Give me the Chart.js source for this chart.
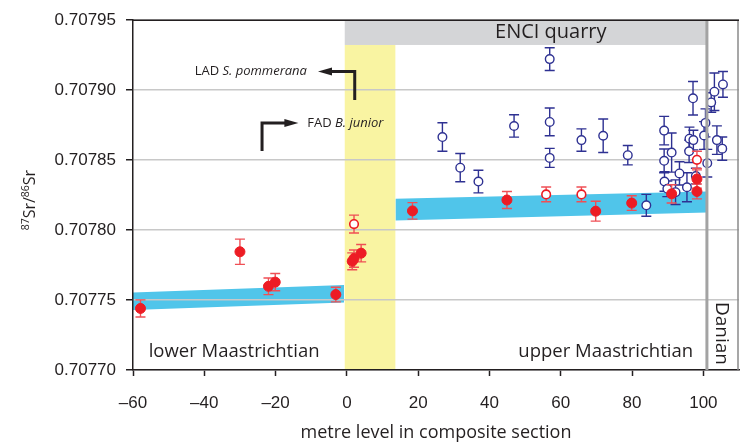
<!DOCTYPE html>
<html>
<head>
<meta charset="utf-8">
<script src="https://cdn.jsdelivr.net/npm/chart.js@4.4.1/dist/chart.umd.min.js"></script>
<style>
    html, body { margin: 0; padding: 0; background: #fff; }
</style>
</head>
<body>
<canvas id="myChart" width="745" height="448"></canvas>
<script>
// axis ticks
const xTicks = [-60, -40, -20, 0, 20, 40, 60, 80, 100];
const yTicks = [0.70770, 0.70775, 0.70780, 0.70785, 0.70790, 0.70795];

// open blue circles
const blueX = [26.8, 31.8, 36.9, 46.9, 56.9, 56.9, 56.9, 65.8, 71.9, 78.8, 84.0,
    89.0, 89.0, 89.1, 89.9, 91.1, 92.2, 93.3, 95.4, 96.0, 96.1, 97.1, 97.2, 97.9,
    100.2, 100.6, 101.1, 102.2, 103.1, 103.8, 105.5, 105.3];
const blueY = [0.7078665, 0.7078446, 0.7078347, 0.7078744, 0.7079222, 0.7078773, 0.7078516, 0.7078643, 0.7078674, 0.7078535, 0.7078177,
    0.7078711, 0.7078495, 0.7078347, 0.7078295, 0.7078554, 0.7078271, 0.7078405, 0.7078306, 0.7078563, 0.7078653, 0.7078942, 0.7078643, 0.7078386,
    0.7078676, 0.7078766, 0.7078478, 0.7078912, 0.7078989, 0.7078643, 0.7079041, 0.7078582];
const blueErr = [0.0000102, 0.0000101, 0.0000081, 0.0000080, 0.0000081, 0.0000099, 0.0000068, 0.0000080, 0.0000120, 0.0000069, 0.0000078,
    0.0000102, 0.0000085, 0.0000070, 0.0000056, 0.0000140, 0.0000088, 0.0000083, 0.0000104, 0.0000080, 0.0000083, 0.0000120, 0.0000070, 0.0000056,
    0.0000099, 0.0000100, 0.0000099, 0.0000070, 0.0000134, 0.0000102, 0.0000092, 0.0000083];

// filled red circles
const redX = [-57.9, -30.0, -22.0, -20.1, -3.1, 1.5, 2.0, 4.0, 18.4, 44.9, 69.8, 79.9, 91.1, 98.2, 98.2];
const redY = [0.7077440, 0.7077845, 0.7077598, 0.7077628, 0.7077539, 0.7077777, 0.7077796, 0.7077835,
    0.7078137, 0.7078215, 0.7078135, 0.7078193, 0.7078259, 0.7078276, 0.7078365];
const redErr = [0.0000061, 0.0000090, 0.0000059, 0.0000062, 0.0000052, 0.0000060, 0.0000062, 0.0000062,
    0.0000059, 0.0000061, 0.0000071, 0.0000052, 0.0000065, 0.0000053, 0.0000065];

// open red circles
const redOpenX = [2.0, 55.9, 65.8, 98.2];
const redOpenY = [0.7078043, 0.7078255, 0.7078255, 0.7078502];
const redOpenErr = [0.0000064, 0.0000053, 0.0000053, 0.0000061];

// cyan trend bands
const bandLowX = [-60, -0.8];
const bandLowTop = [0.7077553, 0.7077607];
const bandLowBottom = [0.7077429, 0.7077482];
const bandHighX = [13.6, 101];
const bandHighTop = [0.7078224, 0.7078276];
const bandHighBottom = [0.7078069, 0.7078125];

// shaded intervals
const yellowZone = [-0.6, 13.6];
const quarryZone = [-0.6, 101];
const quarryBase = 0.7079323;
const danianAt = 101;

const ink = '#231f20';
const blue = '#2e3192';
const red = '#ed1c24';
const cyan = '#50c5ea';
const textFont = '"Open Sans", sans-serif';

const toPoints = (xs, ys) => xs.map((x, i) => ({ x: x, y: ys[i] }));

function bandSet(xs, ys, fill) {
    return {
        type: 'line',
        data: toPoints(xs, ys),
        borderWidth: 0,
        borderColor: cyan,
        backgroundColor: cyan,
        pointRadius: 0,
        fill: fill,
        order: 10
    };
}

const zones = {
    id: 'zones',
    beforeDraw(chart) {
        const { ctx, chartArea, scales: { x, y } } = chart;
        const yb = y.getPixelForValue(quarryBase);
        ctx.save();
        ctx.fillStyle = '#f9f4a2';
        const ya0 = x.getPixelForValue(yellowZone[0]);
        ctx.fillRect(ya0, yb, x.getPixelForValue(yellowZone[1]) - ya0, chartArea.bottom - yb);
        ctx.fillStyle = '#d4d5d7';
        const q0 = x.getPixelForValue(quarryZone[0]);
        ctx.fillRect(q0, chartArea.top, x.getPixelForValue(quarryZone[1]) - q0, yb - chartArea.top);
        ctx.restore();
    }
};

const errorBars = {
    id: 'errorBars',
    beforeDatasetDraw(chart, args) {
        const ds = chart.data.datasets[args.index];
        if (!ds.errors) return;
        const { ctx, scales: { x, y } } = chart;
        ctx.save();
        ctx.strokeStyle = ds.errorColor;
        ctx.lineWidth = 1.4;
        ds.data.forEach((p, i) => {
            const px = x.getPixelForValue(p.x);
            const top = y.getPixelForValue(p.y + ds.errors[i]);
            const bot = y.getPixelForValue(p.y - ds.errors[i]);
            ctx.beginPath();
            ctx.moveTo(px, top); ctx.lineTo(px, bot);
            ctx.moveTo(px - 5, top); ctx.lineTo(px + 5, top);
            ctx.moveTo(px - 5, bot); ctx.lineTo(px + 5, bot);
            ctx.stroke();
        });
        ctx.restore();
    }
};

function arrowHead(ctx, tx, ty, dir) {
    ctx.beginPath();
    ctx.moveTo(tx, ty);
    ctx.lineTo(tx - dir * 14, ty - 4);
    ctx.lineTo(tx - dir * 14, ty + 4);
    ctx.closePath();
    ctx.fill();
}

function mixedText(ctx, parts, px, py, align) {
    let w = 0;
    parts.forEach(p => { ctx.font = p[1]; w += ctx.measureText(p[0]).width; });
    let cx = align === 'right' ? px - w : px;
    ctx.textAlign = 'left';
    parts.forEach(p => {
        ctx.font = p[1];
        ctx.fillText(p[0], cx, py);
        cx += ctx.measureText(p[0]).width;
    });
}

const notes = {
    id: 'notes',
    afterDatasetsDraw(chart) {
        const { ctx, chartArea, scales: { x, y } } = chart;
        const X = v => x.getPixelForValue(v);
        const Y = v => y.getPixelForValue(v);
        ctx.save();

        // Danian boundary
        ctx.strokeStyle = '#a3a3a3';
        ctx.lineWidth = 3;
        ctx.beginPath();
        ctx.moveTo(X(danianAt), chartArea.top);
        ctx.lineTo(X(danianAt), chartArea.bottom);
        ctx.stroke();

        // frame
        ctx.lineWidth = 1.5;
        ctx.strokeStyle = '#8a8a8a';
        ctx.beginPath();
        ctx.moveTo(chartArea.right - 1, chartArea.top);
        ctx.lineTo(chartArea.right - 1, chartArea.bottom);
        ctx.stroke();
        ctx.strokeStyle = ink;
        ctx.beginPath();
        ctx.moveTo(chartArea.left, chartArea.top);
        ctx.lineTo(chartArea.right, chartArea.top);
        ctx.stroke();

        ctx.fillStyle = ink;
        ctx.textBaseline = 'middle';

        ctx.font = '20px ' + textFont;
        ctx.textAlign = 'center';
        ctx.fillText('ENCI quarry', X(57.2), (chartArea.top + Y(quarryBase)) / 2);

        ctx.font = '18.5px ' + textFont;
        ctx.textAlign = 'left';
        ctx.fillText('lower Maastrichtian', X(-55.6), Y(0.7077134));
        ctx.textAlign = 'right';
        ctx.fillText('upper Maastrichtian', X(97.1), Y(0.7077134));

        ctx.save();
        ctx.font = '19px ' + textFont;
        ctx.translate(X(105), Y(0.7077261));
        ctx.rotate(Math.PI / 2);
        ctx.textAlign = 'center';
        ctx.fillText('Danian', 0, 0);
        ctx.restore();

        // biostratigraphic markers
        mixedText(ctx, [['LAD ', '13px ' + textFont], ['S. pommerana', 'italic 13px ' + textFont]],
            X(-11.2), Y(0.7079133), 'right');
        mixedText(ctx, [['FAD ', '13px ' + textFont], ['B. junior', 'italic 13px ' + textFont]],
            X(-11.1), Y(0.7078766), 'left');

        ctx.strokeStyle = ink;
        ctx.lineWidth = 3;
        ctx.lineJoin = 'miter';
        ctx.beginPath();
        ctx.moveTo(X(2.2), Y(0.707893));
        ctx.lineTo(X(2.2), Y(0.7079133));
        ctx.lineTo(X(-5), Y(0.7079133));
        ctx.stroke();
        arrowHead(ctx, X(-8.1), Y(0.7079133), -1);

        ctx.beginPath();
        ctx.moveTo(X(-23.8), Y(0.7078566));
        ctx.lineTo(X(-23.8), Y(0.7078766));
        ctx.lineTo(X(-17), Y(0.7078766));
        ctx.stroke();
        arrowHead(ctx, X(-13.6), Y(0.7078766), 1);

        ctx.restore();
    },
    afterDraw(chart) {
        const { ctx, chartArea } = chart;
        ctx.save();
        ctx.fillStyle = ink;
        // y title 87Sr/86Sr
        ctx.translate(35, (chartArea.top + chartArea.bottom) / 2 + 5);
        ctx.rotate(-Math.PI / 2);
        const parts = [['87', 10.5, -6], ['Sr/', 16, 0], ['86', 10.5, -6], ['Sr', 16, 0]];
        let w = 0;
        parts.forEach(p => { ctx.font = p[1] + 'px ' + textFont; w += ctx.measureText(p[0]).width; });
        let cx = -w / 2;
        ctx.textBaseline = 'alphabetic';
        parts.forEach(p => {
            ctx.font = p[1] + 'px ' + textFont;
            ctx.fillText(p[0], cx, p[2]);
            cx += ctx.measureText(p[0]).width;
        });
        ctx.restore();
    }
};

const ctx = document.getElementById('myChart');
const chartSr = new Chart(ctx, {
    type: 'scatter',
    data: {
        datasets: [
            {
                data: toPoints(redX, redY),
                errors: redErr,
                errorColor: '#ef4f55',
                pointRadius: 5,
                backgroundColor: red,
                borderColor: red,
                borderWidth: 1,
                order: 0
            },
            {
                data: toPoints(redOpenX, redOpenY),
                errors: redOpenErr,
                errorColor: '#ef4f55',
                pointRadius: 4.3,
                backgroundColor: '#fff',
                borderColor: red,
                borderWidth: 1.6,
                order: 1
            },
            {
                data: toPoints(blueX, blueY),
                errors: blueErr,
                errorColor: blue,
                pointRadius: 4.3,
                backgroundColor: '#fff',
                borderColor: blue,
                borderWidth: 1.4,
                order: 2
            },
            bandSet(bandLowX, bandLowTop, false),
            bandSet(bandLowX, bandLowBottom, '-1'),
            bandSet(bandHighX, bandHighTop, false),
            bandSet(bandHighX, bandHighBottom, '-1')
        ]
    },
    options: {
        responsive: false,
        animation: false,
        layout: { padding: { top: 15, right: 3, left: 0, bottom: 0 } },
        plugins: {
            legend: { display: false },
            tooltip: { enabled: false },
            filler: { drawTime: 'beforeDraw' }
        },
        scales: {
            x: {
                type: 'linear',
                min: -60,
                max: 110,
                afterBuildTicks: s => { s.ticks = xTicks.map(v => ({ value: v })); },
                afterFit: s => { s.height = 78; },
                grid: { drawOnChartArea: false, drawTicks: true, tickLength: 6, tickColor: ink, tickWidth: 1.5 },
                border: { color: ink, width: 1.5 },
                ticks: {
                    color: ink,
                    padding: 17,
                    font: { family: '"Liberation Sans", Arial', size: 17 },
                    callback: v => v < 0 ? '\u2013' + Math.abs(v) : String(v)
                },
                title: {
                    display: true,
                    text: 'metre level in composite section',
                    color: ink,
                    font: { family: textFont, size: 18 },
                    padding: { top: 10 }
                }
            },
            y: {
                type: 'linear',
                min: 0.70770,
                max: 0.70795,
                afterBuildTicks: s => { s.ticks = yTicks.map(v => ({ value: v })); },
                afterFit: s => { s.width = 133; },
                grid: { color: '#c8c8c8', lineWidth: 1.5, drawTicks: true, tickLength: 7, tickColor: ink, tickWidth: 1.5 },
                border: { color: ink, width: 1.5 },
                ticks: {
                    color: ink,
                    padding: 10,
                    font: { family: '"Liberation Sans", Arial', size: 17 },
                    callback: v => v.toFixed(5)
                }
            }
        }
    },
    plugins: [zones, errorBars, notes]
});
</script>
</body>
</html>
